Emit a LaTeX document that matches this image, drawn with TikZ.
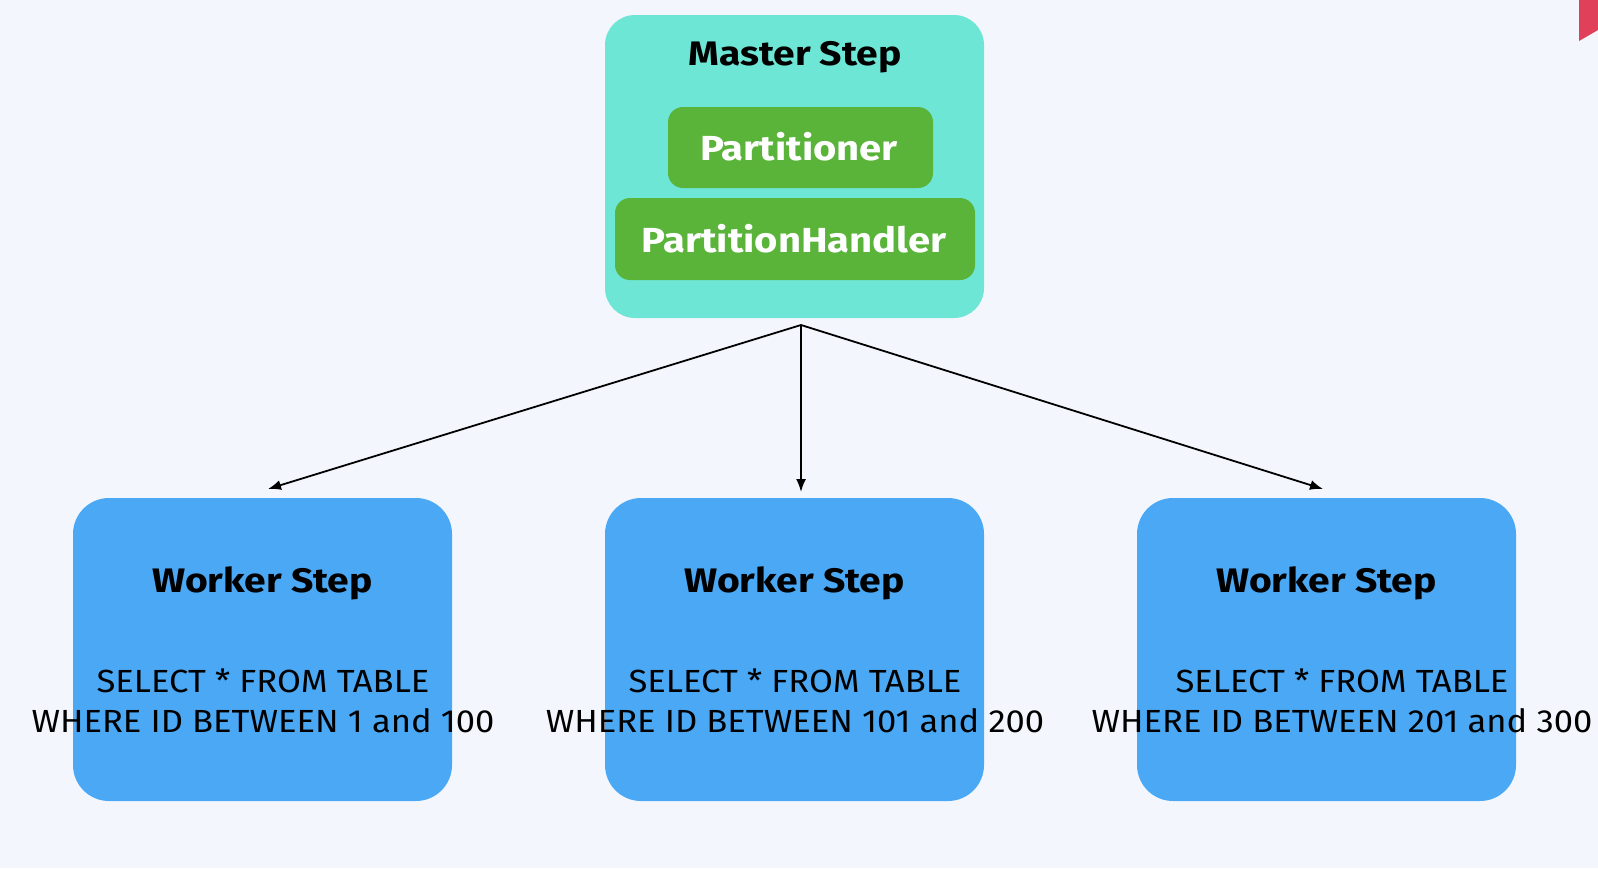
\documentclass[tikz,border=0pt]{standalone}
\usepackage{fontspec}
\setmainfont{Fira Sans}[FakeStretch=1.15]
\newfontfamily\sqlfont{Fira Sans}[FakeStretch=1.08]
\usetikzlibrary{arrows.meta}
\definecolor{bgc}{HTML}{F3F7FD}
\definecolor{masterc}{HTML}{6DE6D6}
\definecolor{greenc}{HTML}{5AB43A}
\definecolor{workerc}{HTML}{4AA8F4}
\definecolor{accentc}{HTML}{E0405A}
\tikzset{
  bigbox/.style={rectangle, rounded corners=36pt, minimum width=379pt, minimum height=303pt, inner sep=0pt, draw=none},
  greenbox/.style={rectangle, rounded corners=15pt, fill=greenc, inner sep=0pt, draw=none},
  titletext/.style={anchor=base, inner sep=0pt, font=\fontsize{34}{40}\selectfont\bfseries},
  whitetext/.style={anchor=base, inner sep=0pt, text=white, font=\fontsize{34.8}{40}\selectfont\bfseries},
  sqltext/.style={anchor=base, inner sep=0pt, font=\sqlfont\fontsize{32}{40}\selectfont},
  conn/.style={line width=1.8pt, -{Latex[length=13pt,width=10pt]}}
}
\begin{document}
\begin{tikzpicture}[x=1pt,y=-1pt]
\fill[bgc] (0,0) rectangle (1598,868);
\useasboundingbox (0,0) rectangle (1598,868);
\fill[accentc] (1579,0) -- (1598,0) -- (1598,30) -- (1579,41) -- cycle;

% master
\node[bigbox, fill=masterc, rounded corners=30pt] (master) at (794.5,166.5) {};
\node[titletext] (mastert) at (795,65) {Master Step};
\node[greenbox, minimum width=265pt, minimum height=81pt] (part) at (800.5,147.5) {};
\node[whitetext] (partt) at (799,160) {Partitioner};
\node[greenbox, minimum width=360pt, minimum height=82pt] (handler) at (795,239) {};
\node[whitetext] (handlert) at (794,252) {PartitionHandler};

% workers
\node[bigbox, fill=workerc] (w1) at (262.5,649.5) {};
\node[bigbox, fill=workerc] (w2) at (794.5,649.5) {};
\node[bigbox, fill=workerc] (w3) at (1326.5,649.5) {};

\node[titletext] (w1t) at (262.5,592) {Worker Step};
\node[titletext] (w2t) at (794.5,592) {Worker Step};
\node[titletext] (w3t) at (1326.5,592) {Worker Step};

\node[sqltext] (s1a) at (263,692) {SELECT * FROM TABLE};
\node[sqltext] (s1b) at (263,732) {WHERE ID BETWEEN 1 and 100};
\node[sqltext] (s2a) at (795,692) {SELECT * FROM TABLE};
\node[sqltext] (s2b) at (795,732) {WHERE ID BETWEEN 101 and 200};
\node[sqltext] (s3a) at (1342,692) {SELECT * FROM TABLE};
\node[sqltext] (s3b) at (1342,732) {WHERE ID BETWEEN 201 and 300};

% connectors
\coordinate (apex) at (801,325);
\coordinate (t1) at (268,489);
\coordinate (t2) at (801,492);
\coordinate (t3) at (1323,489);
\draw[conn] (apex) -- (t1);
\draw[conn] (apex) -- (t2);
\draw[conn] (apex) -- (t3);
\end{tikzpicture}
\end{document}
